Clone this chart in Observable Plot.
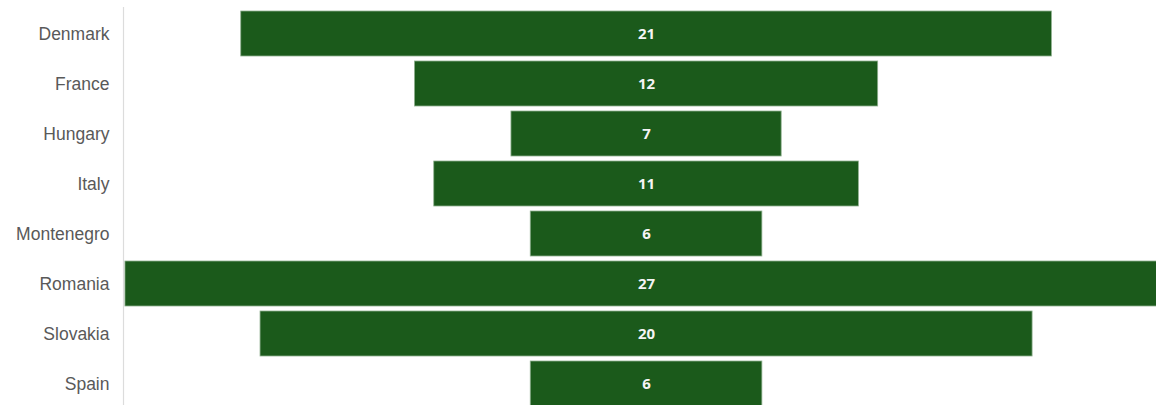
<!DOCTYPE html>
<html>
<head>
<meta charset="utf-8">
<script src="https://cdn.jsdelivr.net/npm/d3@7"></script>
<script src="https://cdn.jsdelivr.net/npm/@observablehq/plot@0.6"></script>
<style>
  html, body { margin: 0; padding: 0; background: #fff; }
  #chart svg { display: block; }
</style>
</head>
<body>
<div id="chart"></div>
<script>
const countries = ["Denmark", "France", "Hungary", "Italy", "Montenegro", "Romania", "Slovakia", "Spain"];
const values = [21, 12, 7, 11, 6, 27, 20, 6];

const data = countries.map((c, i) => ({country: c, value: values[i]}));

const chart = Plot.plot({
  width: 1156,
  height: 405,
  marginLeft: 123,
  marginRight: 0,
  marginTop: 7,
  marginBottom: 0,
  style: {fontFamily: "'Liberation Sans', Arial, sans-serif", background: "#fff"},
  x: {domain: [-13.55, 13.21], axis: null},
  y: {domain: countries, range: [8, 408], paddingInner: 0.1, paddingOuter: 0.05, label: null},
  marks: [
    Plot.ruleX([-13.55], {stroke: "#dcdcdc", strokeWidth: 1.2}),
    Plot.barX(data, {
      x1: d => -d.value / 2,
      x2: d => d.value / 2,
      y: "country",
      fill: "#1b5a1b",
      stroke: "#8fb08f",
      strokeWidth: 0.8
    }),
    Plot.text(data, {
      x: 0,
      y: "country",
      text: d => String(d.value),
      fill: "#f4f4f4",
      fontWeight: "bold",
      fontSize: 15,
      fontFamily: "'Open Sans', sans-serif"
    }),
    Plot.axisY({tickSize: 0, tickPadding: 14, fontSize: 17.5, color: "#595959", label: null})
  ]
});
document.getElementById("chart").append(chart);
</script>
</body>
</html>
